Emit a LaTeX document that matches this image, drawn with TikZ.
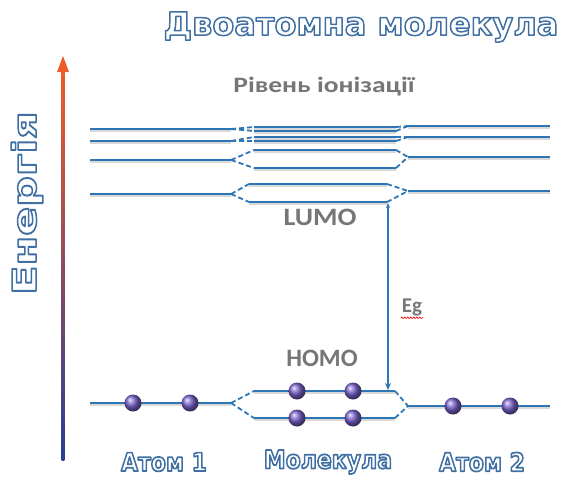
\documentclass[tikz,border=0pt]{standalone}
\usepackage{fontspec}
\setmainfont{DejaVu Sans}
\newfontfamily\lblfont{Carlito}
\usepackage{tikz}
\usetikzlibrary{arrows.meta,decorations.pathmorphing}

\definecolor{lvlblue}{RGB}{46,117,182}
\definecolor{elecviolet}{RGB}{122,98,205}
\definecolor{lblgray}{RGB}{118,118,118}
\definecolor{axisblue}{RGB}{40,62,150}
\definecolor{axispurple}{RGB}{150,50,150}
\definecolor{axisred}{RGB}{240,92,40}

% white text with a blue stroked outline
\newcommand{\outl}[1]{\textcolor{white}{\special{pdf:literal direct 0.25 0.44 0.64 RG 1.5 w 1 j 2 Tr}#1\special{pdf:literal direct 0 Tr}}}

\tikzset{
  lvl/.style={draw=lvlblue, line width=2.4pt,
    preaction={draw=black!15, line width=2.4pt, transform canvas={yshift=-1.3pt}}},
  split/.style={draw=lvlblue, line width=1.8pt, dash pattern=on 5pt off 3pt},
  elec/.style={circle, minimum size=17pt, inner sep=0pt, ball color=elecviolet},
  graylbl/.style={font=\lblfont\bfseries\fontsize{22}{22}\selectfont, text=lblgray},
  outlbl/.style={font=\bfseries\fontsize{22}{22}\selectfont, inner sep=0pt}
}

\begin{document}
\begin{tikzpicture}[x=1pt, y=-1pt]
\useasboundingbox (0,0) rectangle (564,499);

% energy axis
\coordinate (ebot) at (63,460);
\coordinate (etop) at (63,56);
\shade[bottom color=axisblue, middle color=axispurple, top color=axisred]
  (61.6,460) rectangle (64.4,70);
\fill[axisred] (etop) -- (57,72) -- (69,72) -- cycle;
\node[outlbl, font=\bfseries\fontsize{33}{33}\selectfont, rotate=90] (energy) at (27,203) {\scalebox{1.3}[1]{\outl{Енергія}}};

% title
\node[outlbl, font=\bfseries\fontsize{32}{32}\selectfont] (title) at (361,27) {\outl{Двоатомна молекула}};

% levels: atom 1, molecule (split pair), atom 2
\foreach \n/\ya/\yu/\yd/\yb/\ms/\me in {1/129/127/131/126/254/396,
    2/141/137/141/137/254/396, 3/160/150/168/157/254/396,
    4/194/184/202/191/249/387, 0/403/391/418/406/254/395} {
  \coordinate (A\n a) at (90,\ya);  \coordinate (A\n b) at (231,\ya);
  \coordinate (M\n a) at (\ms,\yu); \coordinate (M\n b) at (\me,\yu);
  \coordinate (M\n c) at (\ms,\yd); \coordinate (M\n d) at (\me,\yd);
  \coordinate (B\n a) at (408,\yb); \coordinate (B\n b) at (550,\yb);
  \draw[lvl] (A\n a) -- (A\n b);
  \draw[lvl] (M\n a) -- (M\n b);
  \draw[lvl] (M\n c) -- (M\n d);
  \draw[lvl] (B\n a) -- (B\n b);
  \draw[split] (A\n b) -- (M\n a) (A\n b) -- (M\n c);
  \draw[split] (M\n b) -- (B\n a) (M\n d) -- (B\n a);
}

% electrons
\node[elec] (e1) at (133,403) {};
\node[elec] (e2) at (190,403) {};
\node[elec] (e3) at (297,391) {};
\node[elec] (e4) at (353,391) {};
\node[elec] (e5) at (297,418) {};
\node[elec] (e6) at (353,418) {};
\node[elec] (e7) at (453,406) {};
\node[elec] (e8) at (510,406) {};

% labels
\node[graylbl] (ion) at (324,87) {\scalebox{1.25}[1]{Рівень іонізації}};
\node[graylbl, font=\lblfont\bfseries\fontsize{25}{25}\selectfont] (lumo) at (320,217) {\scalebox{1.12}[1]{LUMO}};
\node[graylbl, font=\lblfont\bfseries\fontsize{25}{25}\selectfont] (homo) at (322,358) {HOMO};

% band gap
\coordinate (gtop) at (388,203);
\coordinate (gbot) at (388,390);
\draw[draw=lvlblue, line width=1.2pt, {Stealth[length=5pt,width=4pt]}-{Stealth[length=7pt,width=6pt]}] (gtop) -- (gbot);
\node[graylbl, font=\lblfont\bfseries\fontsize{21}{21}\selectfont, inner sep=1pt] (eg) at (412,307) {Eg};
\draw[red, line width=0.6pt, decorate, decoration={snake, amplitude=0.8pt, segment length=3pt}]
  ([yshift=-1pt]eg.south west) -- ([yshift=-1pt]eg.south east);

% bottom labels
\node[outlbl] (atom1) at (164,462) {\scalebox{1}[1.15]{\outl{Атом 1}}};
\node[outlbl] (mol) at (328,462) {\scalebox{1}[1.15]{\outl{Молекула}}};
\node[outlbl] (atom2) at (482,462) {\scalebox{1}[1.15]{\outl{Атом 2}}};
\end{tikzpicture}
\end{document}
